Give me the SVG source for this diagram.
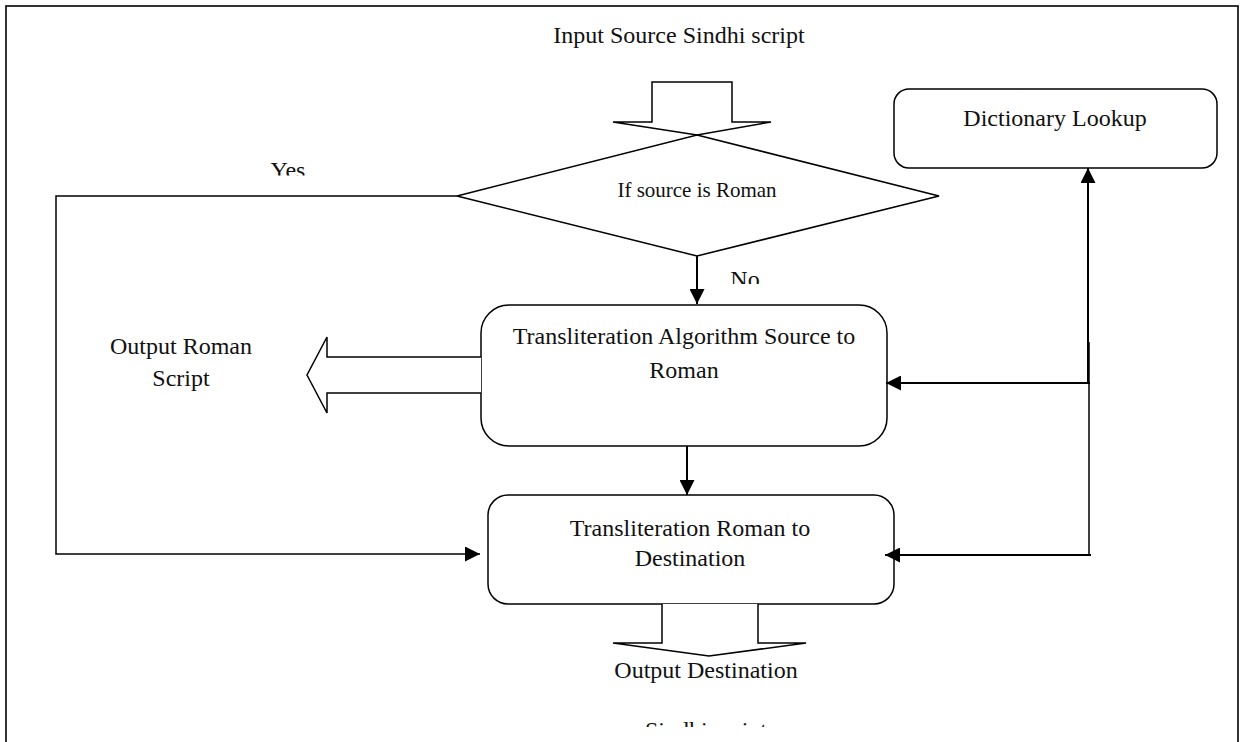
<svg xmlns="http://www.w3.org/2000/svg" width="1244" height="742" viewBox="0 0 1244 742">
<style>
  .shape { fill: #ffffff; stroke: #000000; stroke-width: 1.5; }
  .blk { fill: #ffffff; stroke: #000000; stroke-width: 1.5; stroke-linejoin: miter; }
  .conn { fill: none; stroke: #000000; stroke-width: 2; }
  .thin { fill: none; stroke: #000000; stroke-width: 1.5; }
  text { font-family: "Liberation Serif", "Times New Roman", serif; font-size: 24px; fill: #111111; text-anchor: middle; }
  .small { font-size: 21px; }
</style>
<defs>
  <marker id="ah" viewBox="0 0 15 15" refX="15" refY="7.5" markerWidth="15" markerHeight="15" orient="auto" markerUnits="userSpaceOnUse">
    <path d="M0,0 L15,7.5 L0,15 z" fill="#000000"/>
  </marker>
  <clipPath id="clipYes"><rect x="200" y="140" width="160" height="35.5"/></clipPath>
  <clipPath id="clipNo"><rect x="700" y="250" width="100" height="34"/></clipPath>
  <clipPath id="clipSindhi"><rect x="580" y="700" width="260" height="27"/></clipPath>
</defs>
<rect id="frame" x="6" y="6" width="1232" height="760" fill="none" stroke="#000000" stroke-width="1.6"/>

<g id="input-label">
  <text x="679" y="43">Input Source Sindhi script</text>
</g>
<g id="input-arrow">
  <polygon class="blk" points="652,82 732,82 732,122 771,122 697,135 613,122 652,122"/>
</g>
<g id="decision">
  <polygon class="shape" points="697,135 939,196 697,256 457,196"/>
  <text class="small" x="697" y="197">If source is Roman</text>
</g>
<g id="dictionary">
  <rect class="shape" x="894" y="89" width="323" height="79" rx="15" ry="15"/>
  <text x="1055" y="126">Dictionary Lookup</text>
</g>
<g id="translit-source">
  <rect class="shape" x="481" y="305" width="406" height="141" rx="28" ry="28"/>
  <text x="684" y="344">Transliteration Algorithm Source to</text>
  <text x="684" y="378">Roman</text>
</g>
<g id="output-roman-arrow">
  <polyline class="blk" points="481,357 327,357 327,337 307,375 327,413 327,393 481,393"/>
</g>
<g id="output-roman">
  <text x="181" y="354">Output Roman</text>
  <text x="181" y="386">Script</text>
</g>
<g id="translit-dest">
  <rect class="shape" x="488" y="495" width="406" height="109" rx="20" ry="20"/>
  <text x="690" y="536">Transliteration Roman to</text>
  <text x="690" y="566">Destination</text>
</g>
<g id="output-dest-arrow">
  <polyline class="blk" points="662,604 662,643 613,643 709,656 806,643 758,643 758,604"/>
</g>
<g id="output-dest">
  <text x="706" y="678">Output Destination</text>
  <text x="706" y="738" clip-path="url(#clipSindhi)">Sindhi script</text>
</g>

<g id="connectors">
  <path class="conn" d="M697,256 V304" marker-end="url(#ah)"/>
  <path class="conn" d="M687,446 V495" marker-end="url(#ah)"/>
  <path class="thin" d="M457,196 H56 V554 H480" marker-end="url(#ah)"/>
  <path class="conn" d="M1088,383 V168" marker-end="url(#ah)"/>
  <path class="conn" d="M1090,383 H886" marker-end="url(#ah)"/>
  <path class="thin" d="M1089,342 V555"/>
  <path class="conn" d="M1091,555 H885" marker-end="url(#ah)"/>
  <text x="288" y="178" clip-path="url(#clipYes)">Yes</text>
  <text x="745" y="287" clip-path="url(#clipNo)">No</text>
</g>
</svg>
